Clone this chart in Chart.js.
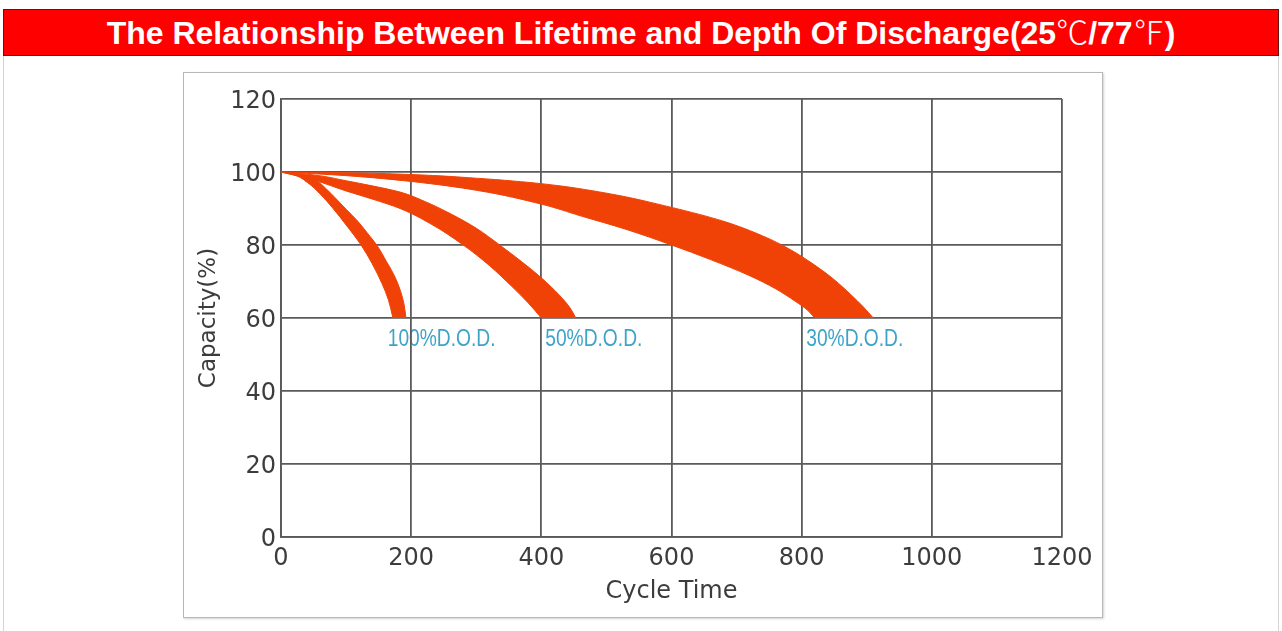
<!DOCTYPE html>
<html>
<head>
<meta charset="utf-8">
<script src="https://cdn.jsdelivr.net/npm/chart.js@4"></script>
<style>
    html, body { margin: 0; padding: 0; background: #ffffff; width: 1282px; height: 631px; overflow: hidden; }
    .frame { position: absolute; left: 3px; top: 9px; width: 1274px; height: 640px; border: 1px solid #d4d4d4; background: #ffffff; }
    .header {
        position: absolute; left: 3px; top: 9px; width: 1274px; height: 45px;
        background: #ff0000; border: 1px solid #6b1010;
        color: #ffffff; font: bold 32px "Liberation Sans", Arial, sans-serif;
        text-align: center; line-height: 46px; white-space: nowrap;
    }
    .header .sym { font-family: "Noto Sans CJK SC", sans-serif; font-weight: 300; line-height: 0; }
    .chart-box { position: absolute; left: 183px; top: 72px; width: 918px; height: 544px; border: 1px solid #b8b8b8; box-shadow: 1px 1px 2px rgba(0,0,0,0.18); background: #ffffff; }
    .chart-wrap { position: absolute; left: 186px; top: 75px; width: 915px; height: 541px; }
</style>
</head>
<body>
<div class="frame"></div>
<div class="header">The Relationship Between Lifetime and Depth Of Discharge(25<span class="sym">℃</span>/77<span class="sym">℉</span>)</div>
<div class="chart-box"></div>
<div class="chart-wrap"><canvas id="chart"></canvas></div>
<script>
    // tick labels
    const cycleTicks = [0, 200, 400, 600, 800, 1000, 1200];
    const capacityTicks = [0, 20, 40, 60, 80, 100, 120];

    // band edges, [cycles, capacity %]
    const dod100Outer = [[0, 100], [25, 99.5], [52, 97.8], [70, 95.3], [85, 92.6], [100, 89.8], [118, 86.5], [133, 83.2], [147, 80], [162, 75.5], [175, 71.3], [184, 67.2], [189, 63.8], [192, 60]];
    const dod100Inner = [[0, 100], [20, 99.2], [40, 97.2], [60, 94], [80, 90], [100, 85.5], [123, 80], [140, 74.9], [155, 69.5], [165, 65], [172, 60]];
    const dod50Outer = [[0, 100], [50, 99.2], [100, 97.6], [140, 96.2], [183, 94.5], [220, 92], [260, 88.6], [300, 84.6], [336, 80], [370, 75.4], [400, 71], [428, 66.2], [444, 62.8], [453, 60]];
    const dod50Inner = [[0, 100], [50, 97.8], [100, 94.8], [140, 92.6], [183, 90], [230, 85.8], [280, 80], [320, 74.4], [355, 68.6], [380, 64.1], [400, 60]];
    const dod30Outer = [[0, 100], [100, 99.8], [200, 99.3], [300, 98.3], [400, 96.8], [500, 94.2], [600, 90.3], [680, 86.5], [740, 82.5], [780, 79], [820, 74.5], [850, 70.5], [875, 66.5], [895, 63], [910, 60]];
    const dod30Inner = [[0, 100], [100, 99], [200, 97.4], [300, 95], [400, 91.2], [460, 88], [530, 84.3], [600, 80], [660, 76], [720, 71.6], [760, 68], [790, 64.6], [808, 62.3], [820, 60]];

    const bandLabels = ["100%D.O.D.", "50%D.O.D.", "30%D.O.D."];
    const labelCycles = [164, 406, 807];
    const labelCapacity = 54.1;

    const bandColor = "#f04206";
    const gridColor = "#5a5a5a";
    const textColor = "#3c3c3c";

    function toPoints(pairs) {
        return pairs.map((p) => ({ x: p[0], y: p[1] }));
    }

    function band(outer, inner) {
        const common = {
            borderColor: bandColor,
            backgroundColor: bandColor,
            borderWidth: 1,
            pointRadius: 0,
            cubicInterpolationMode: "monotone"
        };
        return [
            { ...common, data: toPoints(outer), fill: "+1" },
            { ...common, data: toPoints(inner), fill: false }
        ];
    }

    const bandLabelPlugin = {
        id: "bandLabels",
        beforeDraw(chart) {
            const { ctx, scales } = chart;
            ctx.save();
            ctx.font = "24px 'Liberation Sans', Arial, sans-serif";
            ctx.fillStyle = "#3ea3c8";
            ctx.textBaseline = "middle";
            ctx.textAlign = "left";
            bandLabels.forEach((text, i) => {
                const px = scales.x.getPixelForValue(labelCycles[i]);
                const py = scales.y.getPixelForValue(labelCapacity);
                ctx.save();
                ctx.translate(px, py);
                ctx.scale(0.8, 1);
                ctx.fillText(text, 0, 0);
                ctx.restore();
            });
            ctx.restore();
        }
    };

    const tickFont = { family: "'DejaVu Sans', sans-serif", size: 24 };

    new Chart(document.getElementById("chart"), {
        type: "line",
        data: {
            datasets: [
                ...band(dod100Outer, dod100Inner),
                ...band(dod50Outer, dod50Inner),
                ...band(dod30Outer, dod30Inner)
            ]
        },
        options: {
            indexAxis: "y",
            responsive: true,
            maintainAspectRatio: false,
            animation: false,
            layout: { padding: { top: 24, right: 39, left: 0, bottom: 0 } },
            plugins: {
                legend: { display: false },
                tooltip: { enabled: false },
                filler: { propagate: false }
            },
            scales: {
                x: {
                    type: "linear",
                    position: "bottom",
                    min: 0,
                    max: 1200,
                    afterBuildTicks: (scale) => { scale.ticks = cycleTicks.map((v) => ({ value: v })); },
                    afterFit: (scale) => { scale.height = 79; },
                    grid: { color: gridColor, lineWidth: 1.8, drawTicks: false },
                    border: { color: gridColor, width: 1.8 },
                    ticks: { color: textColor, font: tickFont, padding: 7, maxRotation: 0, callback: (v) => String(v) },
                    title: { display: true, text: "Cycle Time", color: textColor, font: tickFont, padding: { top: 0, bottom: 10 } }
                },
                y: {
                    type: "linear",
                    position: "left",
                    min: 0,
                    max: 120,
                    afterBuildTicks: (scale) => { scale.ticks = capacityTicks.map((v) => ({ value: v })); },
                    afterFit: (scale) => { scale.width = 95; },
                    grid: { color: gridColor, lineWidth: 1.8, drawTicks: false },
                    border: { color: gridColor, width: 1.8 },
                    ticks: { color: textColor, font: tickFont, padding: 5, labelOffset: 3, callback: (v) => String(v) },
                    title: { display: true, text: "Capacity(%)", color: textColor, font: { family: "'DejaVu Sans', sans-serif", size: 23 }, padding: { top: 9, bottom: 0 } }
                }
            }
        },
        plugins: [bandLabelPlugin]
    });
</script>
</body>
</html>
